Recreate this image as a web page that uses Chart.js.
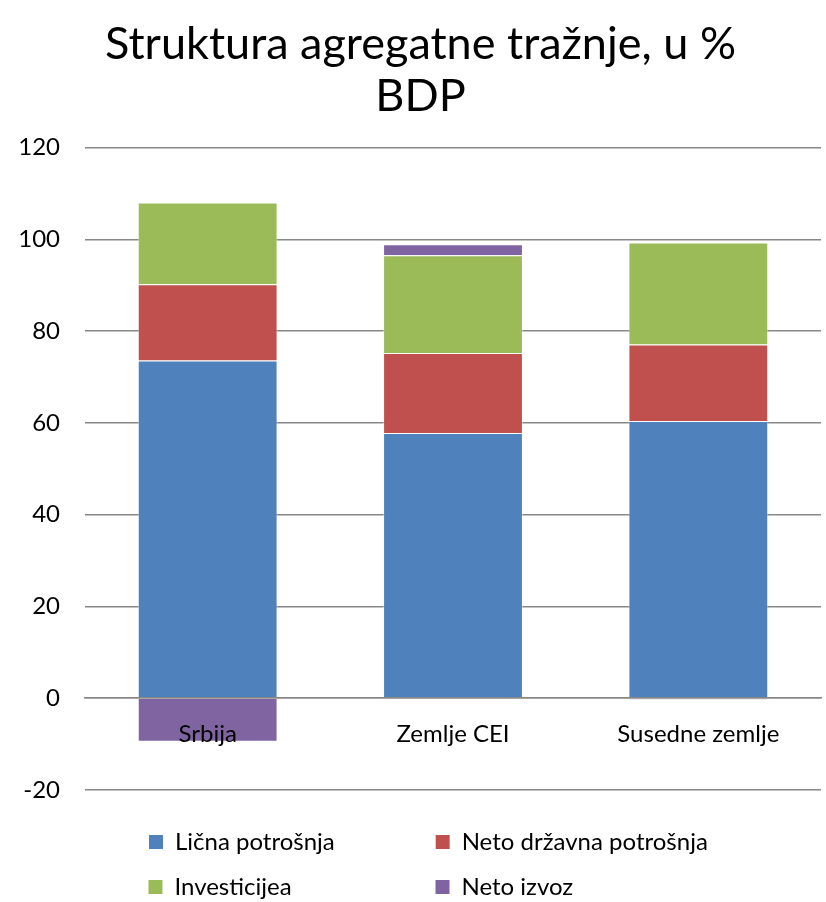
<!DOCTYPE html>
<html>
<head>
<meta charset="utf-8">
<script src="https://cdn.jsdelivr.net/npm/chart.js@4.4.0/dist/chart.umd.min.js"></script>
<style>
  html, body { margin: 0; padding: 0; background: #fff; }
  #wrap { width: 826px; height: 902px; }
</style>
</head>
<body>
<div id="wrap"><canvas id="chart"></canvas></div>
<script>
var categories = ['Srbija', 'Zemlje CEI', 'Susedne zemlje'];
var licnaPotrosnja = [73.6, 57.8, 60.4];
var netoDrzavnaPotrosnja = [16.6, 17.4, 16.7];
var investicije = [17.8, 21.3, 22.2];
var netoIzvoz = [-9.5, 2.4, -0.3];
var yTicks = [-20, 0, 20, 40, 60, 80, 100, 120];

var fontFamily = 'Lato, "Open Sans", sans-serif';
var gridColor = '#878787';
var legendSize = 24;

// pad legend texts so the two legend rows line up as columns
function padLegend(chart) {
    var items = Chart.defaults.plugins.legend.labels.generateLabels(chart);
    var ctx = chart.ctx;
    ctx.save();
    ctx.font = legendSize + 'px ' + fontFamily;
    var targets = [239, 294];
    items.forEach(function (it, i) {
        var t = targets[i % 2];
        while (ctx.measureText(it.text).width < t) it.text += ' ';
        it.lineWidth = 0;
    });
    ctx.restore();
    return items;
}

new Chart(document.getElementById('chart'), {
    type: 'bar',
    data: {
        labels: categories,
        datasets: [
            { label: 'Lična potrošnja', data: licnaPotrosnja, backgroundColor: '#4F81BD' },
            { label: 'Neto državna potrošnja', data: netoDrzavnaPotrosnja, backgroundColor: '#C0504D' },
            { label: 'Investicijea', data: investicije, backgroundColor: '#9BBB59' },
            { label: 'Neto izvoz', data: netoIzvoz, backgroundColor: '#8064A2' }
        ]
    },
    options: {
        responsive: true,
        maintainAspectRatio: false,
        animation: false,
        layout: { padding: { left: 20, right: 5, top: 0, bottom: -7 } },
        datasets: {
            bar: {
                barPercentage: 0.57,
                categoryPercentage: 1,
                borderWidth: 1,
                borderColor: 'rgba(255,255,255,0.45)'
            }
        },
        plugins: {
            title: {
                display: true,
                text: ['Struktura agregatne tražnje, u %', 'BDP'],
                color: '#000',
                font: { family: fontFamily, size: 45, weight: 'normal', lineHeight: 1.15 },
                padding: { top: 19, bottom: 25 }
            },
            legend: {
                position: 'bottom',
                fullSize: false,
                title: { display: true, text: ' ', font: { size: 10, lineHeight: 1 }, padding: { top: 0, bottom: 9 } },
                labels: {
                    color: '#000',
                    boxWidth: 14,
                    boxHeight: 14,
                    padding: 21,
                    font: { family: fontFamily, size: legendSize },
                    generateLabels: padLegend
                }
            },
            tooltip: { enabled: false }
        },
        scales: {
            x: {
                stacked: true,
                position: { y: 0 },
                grid: { display: false, drawTicks: false },
                border: { display: true, color: gridColor, width: 1.5, z: 1 },
                ticks: { color: '#000', padding: 22, z: 1, font: { family: fontFamily, size: 24 } }
            },
            y: {
                stacked: true,
                min: -20,
                max: 120,
                afterBuildTicks: function (scale) {
                    scale.ticks = yTicks.map(function (v) { return { value: v }; });
                },
                afterFit: function (scale) { scale.width = 65; },
                grid: { color: gridColor, lineWidth: 1.5, drawTicks: false },
                border: { display: false },
                ticks: { color: '#000', padding: 25, font: { family: fontFamily, size: 24 } }
            }
        }
    }
});
</script>
</body>
</html>
